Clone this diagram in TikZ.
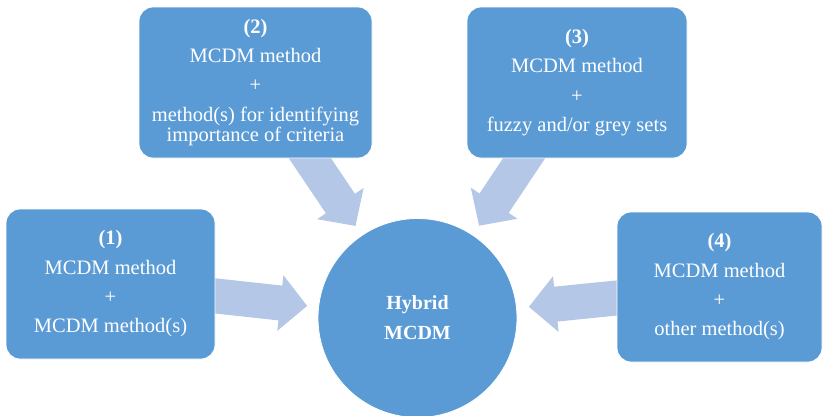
\documentclass[tikz,border=0pt]{standalone}
\usepackage{fontspec}
\setmainfont{Liberation Serif}
\usetikzlibrary{calc,backgrounds}
\definecolor{boxblue}{HTML}{5B9BD5}
\definecolor{arrowfill}{HTML}{B4C7E7}
\newcommand\hyarrow[2]{%
  \path ($(#2)!27pt!(#1)$) coordinate (hb-#1);
  \fill[arrowfill]
    ($(#1)!17.5pt!90:(#2)$) --
    ($(hb-#1)!17.5pt!90:(#2)$) --
    ($(hb-#1)!28pt!90:(#2)$) --
    (#2) --
    ($(hb-#1)!28pt!-90:(#2)$) --
    ($(hb-#1)!17.5pt!-90:(#2)$) --
    ($(#1)!17.5pt!-90:(#2)$) -- cycle;
}
\begin{document}
\begin{tikzpicture}[x=1pt,y=-1pt,
  box/.style={draw=white, line width=0.8pt, fill=boxblue, rounded corners=14pt,
    text=white, align=center, inner sep=0pt,
    font=\fontsize{20.5}{29.3}\selectfont},
  hubstyle/.style={circle, draw=white, line width=0.8pt, fill=boxblue, text=white, align=center,
    inner sep=0pt, minimum size=199pt, font=\fontsize{20}{30}\selectfont\bfseries}]
\useasboundingbox (0,0) rectangle (824,415);

\node[box, minimum width=209pt, minimum height=150pt] (b1) at (110.5,284)
  {\textbf{(1)}\\MCDM method\\+\\MCDM method(s)};
\node[box, minimum width=233pt, minimum height=151pt] (b2) at (255.5,82.5)
  {\textbf{(2)}\\MCDM method\\+\\method(s) for identifying\\[-9pt]importance of criteria};
\node[box, minimum width=220pt, minimum height=151pt] (b3) at (577,82.5)
  {\textbf{(3)}\\MCDM method\\+\\fuzzy and/or grey sets};
\node[box, minimum width=205pt, minimum height=150pt] (b4) at (719.5,287)
  {\textbf{(4)}\\MCDM method\\+\\other method(s)};
\node[hubstyle] (hub) at (417.5,318) {Hybrid\\MCDM};

\coordinate (s1) at ($(b1.east)+(1,12)$);
\coordinate (s2) at ($(b2.south)+(54.5,0)$);
\coordinate (s3) at ($(b3.south)+(-53,0)$);
\coordinate (s4) at ($(b4.west)+(0,11)$);
\foreach \i/\r in {1/111,2/111,3/111,4/112}{
  \coordinate (a\i) at ($(s\i)!-12pt!(hub.center)$);
  \coordinate (t\i) at ($(hub.center)!\r pt!(s\i)$);
}
\begin{pgfonlayer}{background}
  \hyarrow{a1}{t1}
  \hyarrow{a2}{t2}
  \hyarrow{a3}{t3}
  \hyarrow{a4}{t4}
\end{pgfonlayer}
\end{tikzpicture}
\end{document}
